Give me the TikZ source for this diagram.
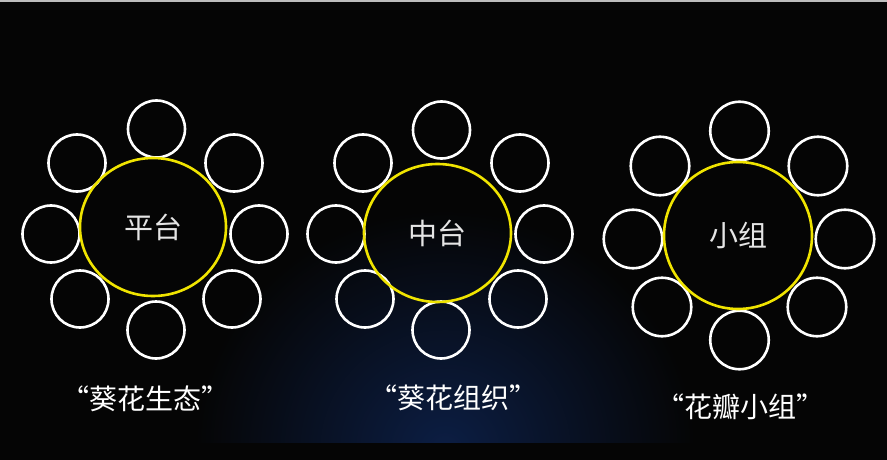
\documentclass[tikz,border=0pt]{standalone}
\usepackage{fontspec}
\newfontfamily\cjk{Noto Sans CJK SC}
\usetikzlibrary{positioning, shapes.geometric}
\definecolor{bgdark}{HTML}{050505}
\definecolor{glowblue}{RGB}{12,30,68}
\definecolor{ringyellow}{HTML}{F0E400}
\definecolor{topline}{HTML}{BDBDBD}
\tikzset{
  petal/.style={circle, draw=white, line width=2.6pt, minimum size=57pt, inner sep=0pt},
  core/.style={ellipse, draw=ringyellow, line width=2.6pt, inner sep=0pt,
    text=white!90!black, font=\cjk\fontsize{29}{30}\selectfont},
  caption/.style={text=white, font=\cjk\fontsize{28}{30}\selectfont}
}

\begin{document}
\begin{tikzpicture}[x=1pt, y=-1pt]
\useasboundingbox (0,0) rectangle (887,460);
\fill[bgdark] (0,0) rectangle (887,460);
\begin{scope}
\clip (0,0) rectangle (887,442);
\shade[inner color=glowblue, outer color=bgdark] (445,450) ellipse (250pt and 240pt);
\end{scope}
\fill[topline] (0,0) rectangle (887,2);

% 平台
\node[petal] (a1) at (156.5,129) {};
\node[petal] (a2) at (234,163) {};
\node[petal] (a3) at (259,234) {};
\node[petal] (a4) at (232,299) {};
\node[petal] (a5) at (156,330) {};
\node[petal] (a6) at (80,299) {};
\node[petal] (a7) at (51,234) {};
\node[petal] (a8) at (77,163) {};
\node[core, minimum width=146pt, minimum height=138pt] (pingtai) at (153,227) {平台};

% 中台
\node[petal] (b1) at (441.5,130) {};
\node[petal] (b2) at (520,163) {};
\node[petal] (b3) at (544,234) {};
\node[petal] (b4) at (518,299) {};
\node[petal] (b5) at (441,330) {};
\node[petal] (b6) at (365,299) {};
\node[petal] (b7) at (336,234) {};
\node[petal] (b8) at (363,163) {};
\node[core, minimum width=147pt, minimum height=138pt] (zhongtai) at (437.5,233) {中台};

% 小组
\node[petal, minimum size=58.5pt] (c1) at (739.5,131) {};
\node[petal, minimum size=58.5pt] (c2) at (818,166) {};
\node[petal, minimum size=58.5pt] (c3) at (845,239) {};
\node[petal, minimum size=58.5pt] (c4) at (817,307) {};
\node[petal, minimum size=58.5pt] (c5) at (739.5,340) {};
\node[petal, minimum size=58.5pt] (c6) at (662,307) {};
\node[petal, minimum size=58.5pt] (c7) at (633,239) {};
\node[petal, minimum size=58.5pt] (c8) at (660,166) {};
\node[core, minimum width=148pt, minimum height=147pt] (xiaozu) at (738,235.5) {小组};

\node[caption] (kuihua) at (145,399) {“葵花生态”};
\node[caption] (zuzhi) at (453,398) {“葵花组织”};
\node[caption] (huaban) at (740,407) {“花瓣小组”};
\end{tikzpicture}
\end{document}
